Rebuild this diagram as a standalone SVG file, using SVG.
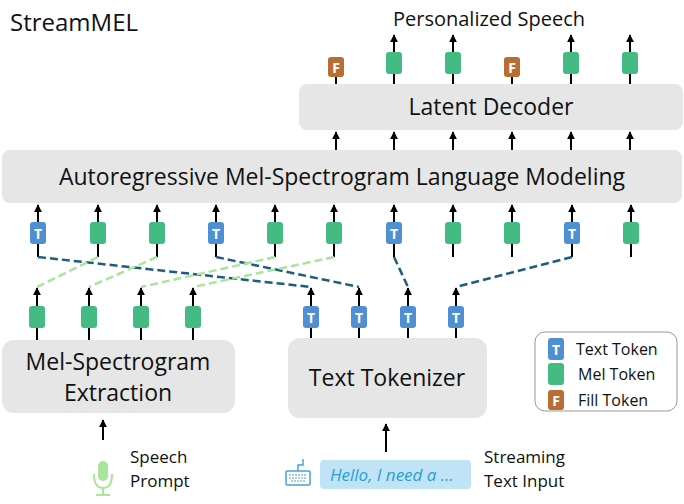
<svg xmlns="http://www.w3.org/2000/svg" width="684" height="504" viewBox="0 0 684 504">
<defs>
<marker id="ah" viewBox="0 0 10 10" refX="9" refY="5" markerWidth="4" markerHeight="4" orient="auto"><path d="M0,0 L10,5 L0,10 z" fill="#000"/></marker>
<g id="tT"><rect x="-8" y="-11" width="16" height="22" rx="3" fill="#4f8fd4"/><text x="0" y="6" class="tk">T</text></g>
<g id="tM"><rect x="-8" y="-11" width="16" height="22" rx="3" fill="#45bb84"/></g>
<g id="tF"><rect x="-8" y="-10" width="16" height="20" rx="3" fill="#b86e32"/><text x="0" y="6" class="tk">F</text></g>
<g id="up"><line x1="0" y1="18" x2="0" y2="0" stroke="#000" stroke-width="2" marker-end="url(#ah)"/></g>
</defs>
<style>
text{font-family:"Open Sans","Noto Sans","Liberation Sans",sans-serif;fill:#111}
.tk{font-size:14px;font-weight:bold;fill:#fff;text-anchor:middle}
.box{fill:#e6e6e6}
.big{font-size:23px;text-anchor:middle}
.ln{stroke:#000;stroke-width:2;fill:none}
.db{stroke:#1d5d7f;stroke-width:2.5;stroke-dasharray:8,4;fill:none}
.dg{stroke:#a9e59a;stroke-width:2.5;stroke-dasharray:8,4;fill:none}
.lg{font-size:16px}
.cap{font-size:17px}
</style>
<rect width="684" height="504" fill="#fff"/>
<text x="10" y="31" style="font-size:24px">StreamMEL</text>
<text x="489" y="26" style="font-size:20px;text-anchor:middle">Personalized Speech</text>

<g id="latent"><rect class="box" x="299" y="84" width="384" height="46" rx="8"/><text class="big" x="491" y="115">Latent Decoder</text></g>
<g id="ar-box"><rect class="box" x="2" y="150" width="680" height="53" rx="8"/><text class="big" x="342" y="185">Autoregressive Mel-Spectrogram Language Modeling</text></g>
<g id="mel"><rect class="box" x="2" y="340" width="233" height="73" rx="12"/><text class="big" x="118" y="370">Mel-Spectrogram</text><text class="big" x="118" y="401">Extraction</text></g>
<g id="tok"><rect class="box" x="288" y="338" width="199" height="80" rx="12"/><text class="big" x="387" y="386">Text Tokenizer</text></g>
<g id="legend"><rect x="535" y="332" width="142" height="79" rx="10" fill="#fff" stroke="#999" stroke-width="1"/>
<use href="#tT" x="556" y="349"/><text class="lg" x="576" y="355">Text Token</text>
<use href="#tM" x="556" y="374"/><text class="lg" x="578" y="380">Mel Token</text>
<use href="#tF" x="556" y="400"/><text class="lg" x="578" y="406">Fill Token</text></g>

<g id="connectors">
<path class="ln" d="M336 77V84M394 73V84M453 73V84M512 77V84M571 73V84M630 73V84"/>
<use href="#up" x="394" y="35"/><use href="#up" x="453" y="35"/><use href="#up" x="571" y="35"/><use href="#up" x="630" y="35"/>
<use href="#up" x="336" y="132"/><use href="#up" x="394" y="132"/><use href="#up" x="453" y="132"/><use href="#up" x="512" y="132"/><use href="#up" x="571" y="132"/><use href="#up" x="630" y="132"/>
<use href="#up" x="38" y="205"/><use href="#up" x="98" y="205"/><use href="#up" x="157" y="205"/><use href="#up" x="216" y="205"/><use href="#up" x="275" y="205"/><use href="#up" x="334" y="205"/><use href="#up" x="394" y="205"/><use href="#up" x="453" y="205"/><use href="#up" x="512" y="205"/><use href="#up" x="572" y="205"/><use href="#up" x="631" y="205"/>
<path class="ln" d="M38 244V257M98 244V257M157 244V257M216 244V257M275 244V257M334 244V257M394 244V257M453 244V257M512 244V257M572 244V257M631 244V257"/>
<path class="db" d="M38 257L311 287M216 257L359 287M394 257L408 287M572 257L456 287"/>
<path class="dg" d="M98 257L37 287M157 257L89 287M275 257L141 287M334 257L193 287"/>
<use href="#up" x="37" y="288"/><use href="#up" x="89" y="288"/><use href="#up" x="141" y="288"/><use href="#up" x="193" y="288"/><use href="#up" x="311" y="288"/><use href="#up" x="359" y="288"/><use href="#up" x="408" y="288"/><use href="#up" x="456" y="288"/>
<path class="ln" d="M37 328V340M89 328V340M141 328V340M193 328V340M311 328V338M359 328V338M408 328V338M456 328V338"/>
<line x1="103" y1="440" x2="103" y2="420" stroke="#000" stroke-width="2" marker-end="url(#ah)"/>
<line x1="386" y1="452" x2="386" y2="424" stroke="#000" stroke-width="2" marker-end="url(#ah)"/>
</g>

<g id="top-tokens"><use href="#tF" x="336" y="67"/><use href="#tM" x="394" y="63"/><use href="#tM" x="453" y="63"/><use href="#tF" x="512" y="67"/><use href="#tM" x="571" y="63"/><use href="#tM" x="630" y="63"/></g>
<g id="mid-tokens"><use href="#tT" x="38" y="233"/><use href="#tM" x="98" y="233"/><use href="#tM" x="157" y="233"/><use href="#tT" x="216" y="233"/><use href="#tM" x="275" y="233"/><use href="#tM" x="334" y="233"/><use href="#tT" x="394" y="233"/><use href="#tM" x="453" y="233"/><use href="#tM" x="512" y="233"/><use href="#tT" x="572" y="233"/><use href="#tM" x="631" y="233"/></g>
<g id="bot-tokens"><use href="#tM" x="37" y="317"/><use href="#tM" x="89" y="317"/><use href="#tM" x="141" y="317"/><use href="#tM" x="193" y="317"/><use href="#tT" x="311" y="317"/><use href="#tT" x="359" y="317"/><use href="#tT" x="408" y="317"/><use href="#tT" x="456" y="317"/></g>

<g id="speech">
<rect x="98" y="461" width="10" height="20" rx="5" fill="#a9e59a"/>
<path d="M94 474 Q94 488 103 488 Q112 488 112 474" stroke="#a9e59a" stroke-width="2" fill="none"/>
<path d="M103 488V495M96 495H110" stroke="#a9e59a" stroke-width="2"/>
<text class="cap" x="130" y="463">Speech</text><text class="cap" x="130" y="487">Prompt</text>
</g>
<g id="text-input">
<rect x="286" y="471" width="24" height="14" rx="1" fill="none" stroke="#4aa3d4" stroke-width="1.5"/>
<path d="M289 475H307M289 478H307M291 481H305" stroke="#4aa3d4" stroke-width="1.2" stroke-dasharray="2,1"/>
<path d="M298 471V465H303V459" stroke="#4aa3d4" stroke-width="1.5" fill="none"/>
<rect x="320" y="460" width="151" height="29" rx="4" fill="#c0e4f5"/>
<text x="330" y="481" style="font-size:17px;font-style:italic;fill:#2a9fd6">Hello, I need a …</text>
<text class="cap" x="484" y="463">Streaming</text><text class="cap" x="484" y="487">Text Input</text>
</g>
</svg>
